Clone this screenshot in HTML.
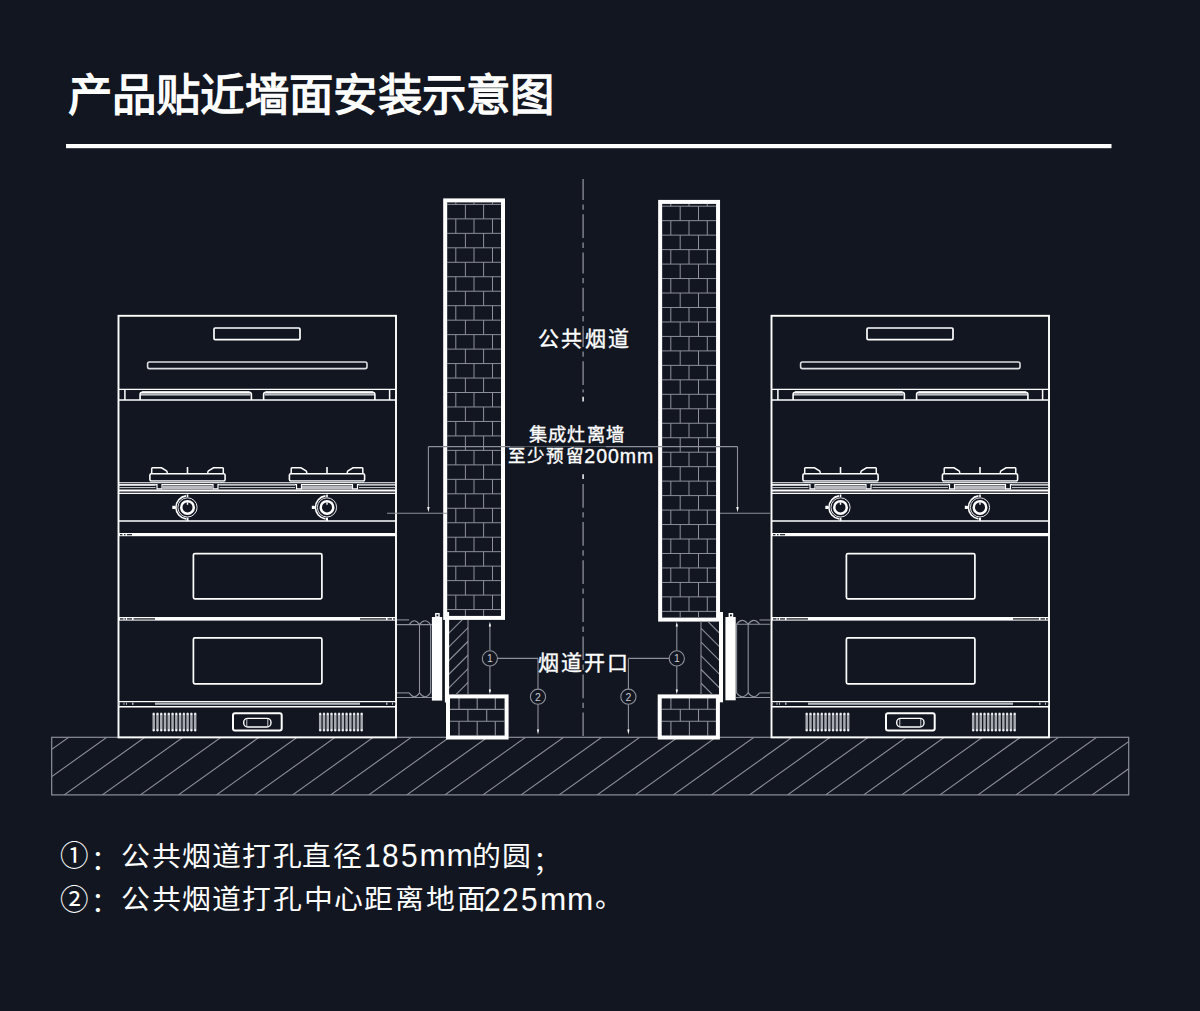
<!DOCTYPE html>
<html lang="zh-CN"><head><meta charset="utf-8">
<style>
html,body{margin:0;padding:0;}
body{width:1200px;height:1011px;background:#121621;position:relative;overflow:hidden;font-family:"Liberation Sans",sans-serif;color:#fff;}
.t{position:absolute;white-space:nowrap;line-height:1;}
svg{position:absolute;left:0;top:0;}
</style></head><body>
<svg width="1200" height="1011" viewBox="0 0 1200 1011">
<defs><clipPath id="floorclip"><rect x="51.7" y="737.3" width="1077" height="57.6"/></clipPath></defs>
<rect x="66" y="144" width="1045.5" height="4.2" fill="#fff"/>
<g clip-path="url(#floorclip)">
<line x1="-45.51" y1="737.30" x2="-126.15" y2="794.90" stroke="#8d9098" stroke-width="1.1" />
<line x1="-7.44" y1="737.30" x2="-88.08" y2="794.90" stroke="#8d9098" stroke-width="1.1" />
<line x1="30.63" y1="737.30" x2="-50.01" y2="794.90" stroke="#8d9098" stroke-width="1.1" />
<line x1="68.70" y1="737.30" x2="-11.94" y2="794.90" stroke="#8d9098" stroke-width="1.1" />
<line x1="106.77" y1="737.30" x2="26.13" y2="794.90" stroke="#8d9098" stroke-width="1.1" />
<line x1="144.84" y1="737.30" x2="64.20" y2="794.90" stroke="#8d9098" stroke-width="1.1" />
<line x1="182.91" y1="737.30" x2="102.27" y2="794.90" stroke="#8d9098" stroke-width="1.1" />
<line x1="220.98" y1="737.30" x2="140.34" y2="794.90" stroke="#8d9098" stroke-width="1.1" />
<line x1="259.05" y1="737.30" x2="178.41" y2="794.90" stroke="#8d9098" stroke-width="1.1" />
<line x1="297.12" y1="737.30" x2="216.48" y2="794.90" stroke="#8d9098" stroke-width="1.1" />
<line x1="335.19" y1="737.30" x2="254.55" y2="794.90" stroke="#8d9098" stroke-width="1.1" />
<line x1="373.26" y1="737.30" x2="292.62" y2="794.90" stroke="#8d9098" stroke-width="1.1" />
<line x1="411.33" y1="737.30" x2="330.69" y2="794.90" stroke="#8d9098" stroke-width="1.1" />
<line x1="449.40" y1="737.30" x2="368.76" y2="794.90" stroke="#8d9098" stroke-width="1.1" />
<line x1="487.47" y1="737.30" x2="406.83" y2="794.90" stroke="#8d9098" stroke-width="1.1" />
<line x1="525.54" y1="737.30" x2="444.90" y2="794.90" stroke="#8d9098" stroke-width="1.1" />
<line x1="563.61" y1="737.30" x2="482.97" y2="794.90" stroke="#8d9098" stroke-width="1.1" />
<line x1="601.68" y1="737.30" x2="521.04" y2="794.90" stroke="#8d9098" stroke-width="1.1" />
<line x1="639.75" y1="737.30" x2="559.11" y2="794.90" stroke="#8d9098" stroke-width="1.1" />
<line x1="677.82" y1="737.30" x2="597.18" y2="794.90" stroke="#8d9098" stroke-width="1.1" />
<line x1="715.89" y1="737.30" x2="635.25" y2="794.90" stroke="#8d9098" stroke-width="1.1" />
<line x1="753.96" y1="737.30" x2="673.32" y2="794.90" stroke="#8d9098" stroke-width="1.1" />
<line x1="792.03" y1="737.30" x2="711.39" y2="794.90" stroke="#8d9098" stroke-width="1.1" />
<line x1="830.10" y1="737.30" x2="749.46" y2="794.90" stroke="#8d9098" stroke-width="1.1" />
<line x1="868.17" y1="737.30" x2="787.53" y2="794.90" stroke="#8d9098" stroke-width="1.1" />
<line x1="906.24" y1="737.30" x2="825.60" y2="794.90" stroke="#8d9098" stroke-width="1.1" />
<line x1="944.31" y1="737.30" x2="863.67" y2="794.90" stroke="#8d9098" stroke-width="1.1" />
<line x1="982.38" y1="737.30" x2="901.74" y2="794.90" stroke="#8d9098" stroke-width="1.1" />
<line x1="1020.45" y1="737.30" x2="939.81" y2="794.90" stroke="#8d9098" stroke-width="1.1" />
<line x1="1058.52" y1="737.30" x2="977.88" y2="794.90" stroke="#8d9098" stroke-width="1.1" />
<line x1="1096.59" y1="737.30" x2="1015.95" y2="794.90" stroke="#8d9098" stroke-width="1.1" />
<line x1="1134.66" y1="737.30" x2="1054.02" y2="794.90" stroke="#8d9098" stroke-width="1.1" />
<line x1="1172.73" y1="737.30" x2="1092.09" y2="794.90" stroke="#8d9098" stroke-width="1.1" />
<line x1="1210.80" y1="737.30" x2="1130.16" y2="794.90" stroke="#8d9098" stroke-width="1.1" />
</g>
<rect x="51.70" y="737.30" width="1077.00" height="57.60" rx="0" fill="none" stroke="#8d9098" stroke-width="1.2"/>
<g id="stove">
<rect x="118.50" y="315.80" width="277.50" height="421.60" rx="0" fill="none" stroke="#ffffff" stroke-width="1.9"/>
<rect x="214.00" y="328.00" width="86.00" height="11.60" rx="1.2" fill="none" stroke="#ffffff" stroke-width="1.7"/>
<rect x="147.60" y="362.00" width="219.40" height="6.60" rx="1.8" fill="none" stroke="#dcdde0" stroke-width="1.6"/>
<line x1="118.50" y1="389.40" x2="396.00" y2="389.40" stroke="#ffffff" stroke-width="1.4" />
<line x1="118.50" y1="400.00" x2="396.00" y2="400.00" stroke="#ffffff" stroke-width="1.5" />
<line x1="124.90" y1="389.40" x2="124.90" y2="400.00" stroke="#ffffff" stroke-width="1.5" />
<line x1="389.60" y1="389.40" x2="389.60" y2="400.00" stroke="#ffffff" stroke-width="1.5" />
<path d="M140.1 400 L140.1 394.5 Q140.1 392.2 142.5 392.2 L249 392.2 Q251.4 392.2 251.4 394.5 L251.4 400" fill="none" stroke="#ffffff" stroke-width="1.6"/>
<rect x="142.00" y="391.30" width="107.50" height="2.20" rx="0" fill="#ffffff"/>
<rect x="141.00" y="393.40" width="109.50" height="2.20" rx="0" fill="#b9bbc0"/>
<path d="M263.6 400 L263.6 394.5 Q263.6 392.2 266 392.2 L372.5 392.2 Q374.9 392.2 374.9 394.5 L374.9 400" fill="none" stroke="#ffffff" stroke-width="1.6"/>
<rect x="265.50" y="391.30" width="107.50" height="2.20" rx="0" fill="#ffffff"/>
<rect x="264.50" y="393.40" width="109.50" height="2.20" rx="0" fill="#b9bbc0"/>
<path d="M151.7 473.5 L151.7 468.6 Q151.7 467.8 152.5 467.8 L161.5 467.8 L166.5 470.8 Q167.3 471.6 167.3 473.5" fill="none" stroke="#ffffff" stroke-width="1.5"/>
<path d="M223.3 473.5 L223.3 468.6 Q223.3 467.8 222.5 467.8 L213.5 467.8 L208.5 470.8 Q207.7 471.6 207.7 473.5" fill="none" stroke="#ffffff" stroke-width="1.5"/>
<line x1="187.50" y1="467.00" x2="187.50" y2="473.50" stroke="#ffffff" stroke-width="1.6" />
<rect x="149.90" y="473.80" width="75.20" height="7.20" rx="1.5" fill="none" stroke="#ffffff" stroke-width="1.6"/>
<rect x="150.50" y="481.00" width="74.00" height="1.80" rx="0" fill="#9fa2a8"/>
<path d="M155.5 484.6 L157.0 484.6 L157.0 488.8 L162.0 488.8 L162.0 484.6 L213.0 484.6 L213.0 488.8 L218.0 488.8 L218.0 484.6 L219.5 484.6" fill="none" stroke="#ffffff" stroke-width="1.2"/>
<rect x="162.50" y="485.60" width="50.00" height="3.60" rx="0" fill="#b8bac0"/>
<path d="M291.2 473.5 L291.2 468.6 Q291.2 467.8 292.0 467.8 L301.0 467.8 L306.0 470.8 Q306.8 471.6 306.8 473.5" fill="none" stroke="#ffffff" stroke-width="1.5"/>
<path d="M362.8 473.5 L362.8 468.6 Q362.8 467.8 362.0 467.8 L353.0 467.8 L348.0 470.8 Q347.2 471.6 347.2 473.5" fill="none" stroke="#ffffff" stroke-width="1.5"/>
<line x1="327.00" y1="467.00" x2="327.00" y2="473.50" stroke="#ffffff" stroke-width="1.6" />
<rect x="289.40" y="473.80" width="75.20" height="7.20" rx="1.5" fill="none" stroke="#ffffff" stroke-width="1.6"/>
<rect x="290.00" y="481.00" width="74.00" height="1.80" rx="0" fill="#9fa2a8"/>
<path d="M295.0 484.6 L296.5 484.6 L296.5 488.8 L301.5 488.8 L301.5 484.6 L352.5 484.6 L352.5 488.8 L357.5 488.8 L357.5 484.6 L359.0 484.6" fill="none" stroke="#ffffff" stroke-width="1.2"/>
<rect x="302.00" y="485.60" width="50.00" height="3.60" rx="0" fill="#b8bac0"/>
<line x1="118.50" y1="482.80" x2="396.00" y2="482.80" stroke="#ffffff" stroke-width="1.1" />
<line x1="118.50" y1="484.80" x2="155.50" y2="484.80" stroke="#ffffff" stroke-width="1.3" />
<line x1="118.50" y1="484.80" x2="155.50" y2="484.80" stroke="#ffffff" stroke-width="1.3" />
<line x1="118.50" y1="487.60" x2="155.50" y2="487.60" stroke="#cfd1d5" stroke-width="1.0" />
<line x1="219.50" y1="484.80" x2="295.00" y2="484.80" stroke="#ffffff" stroke-width="1.3" />
<line x1="219.50" y1="487.60" x2="295.00" y2="487.60" stroke="#cfd1d5" stroke-width="1.0" />
<line x1="359.00" y1="484.80" x2="396.00" y2="484.80" stroke="#ffffff" stroke-width="1.3" />
<line x1="359.00" y1="487.60" x2="396.00" y2="487.60" stroke="#cfd1d5" stroke-width="1.0" />
<line x1="118.50" y1="490.50" x2="396.00" y2="490.50" stroke="#ffffff" stroke-width="1.9" />
<line x1="118.50" y1="493.40" x2="396.00" y2="493.40" stroke="#ffffff" stroke-width="1.3" />
<circle cx="187.5" cy="507.4" r="9.6" fill="none" stroke="#e6e7ea" stroke-width="1"/>
<circle cx="187.5" cy="507.4" r="6.25" fill="none" stroke="#ffffff" stroke-width="2.5"/>
<path d="M186.0 495.9 A11.6 11.6 0 0 0 186.0 518.9" fill="none" stroke="#ffffff" stroke-width="1.6"/>
<line x1="187.50" y1="494.40" x2="187.50" y2="497.10" stroke="#ffffff" stroke-width="1.6" />
<line x1="187.50" y1="517.70" x2="187.50" y2="521.10" stroke="#ffffff" stroke-width="2" />
<line x1="187.50" y1="502.40" x2="187.50" y2="504.80" stroke="#ffffff" stroke-width="1.4" />
<path d="M172.3 505.79999999999995 L174.9 505.79999999999995 L176.1 507.4 L174.9 509.0 L172.3 509.0 Z" fill="#ffffff"/>
<circle cx="327.0" cy="507.4" r="9.6" fill="none" stroke="#e6e7ea" stroke-width="1"/>
<circle cx="327.0" cy="507.4" r="6.25" fill="none" stroke="#ffffff" stroke-width="2.5"/>
<path d="M325.5 495.9 A11.6 11.6 0 0 0 325.5 518.9" fill="none" stroke="#ffffff" stroke-width="1.6"/>
<line x1="327.00" y1="494.40" x2="327.00" y2="497.10" stroke="#ffffff" stroke-width="1.6" />
<line x1="327.00" y1="517.70" x2="327.00" y2="521.10" stroke="#ffffff" stroke-width="2" />
<line x1="327.00" y1="502.40" x2="327.00" y2="504.80" stroke="#ffffff" stroke-width="1.4" />
<path d="M311.8 505.79999999999995 L314.4 505.79999999999995 L315.6 507.4 L314.4 509.0 L311.8 509.0 Z" fill="#ffffff"/>
<line x1="118.50" y1="521.10" x2="396.00" y2="521.10" stroke="#ffffff" stroke-width="1.5" />
<rect x="118.50" y="533.00" width="277.50" height="3.20" rx="0" fill="#ffffff"/>
<rect x="193.40" y="553.60" width="128.50" height="45.20" rx="1.5" fill="none" stroke="#ffffff" stroke-width="1.7"/>
<rect x="118.50" y="617.00" width="277.50" height="3.60" rx="0" fill="#ffffff"/>
<rect x="193.40" y="637.90" width="128.50" height="45.90" rx="1.5" fill="none" stroke="#ffffff" stroke-width="1.7"/>
<rect x="120.00" y="534.00" width="2.50" height="1.30" rx="0" fill="#2a2e38"/>
<rect x="124.00" y="534.00" width="1.50" height="1.30" rx="0" fill="#2a2e38"/>
<rect x="127.00" y="534.00" width="5.00" height="1.30" rx="0" fill="#2a2e38"/>
<rect x="120.00" y="618.20" width="3.50" height="1.40" rx="0" fill="#2a2e38"/>
<rect x="124.50" y="618.20" width="1.50" height="1.40" rx="0" fill="#2a2e38"/>
<rect x="127.00" y="618.20" width="5.00" height="1.40" rx="0" fill="#2a2e38"/>
<rect x="133.50" y="618.20" width="21.50" height="1.40" rx="0" fill="#2a2e38"/>
<rect x="360.00" y="618.20" width="26.00" height="1.40" rx="0" fill="#2a2e38"/>
<rect x="387.50" y="618.20" width="4.50" height="1.40" rx="0" fill="#2a2e38"/>
<rect x="393.00" y="618.20" width="2.00" height="1.40" rx="0" fill="#2a2e38"/>
<line x1="118.50" y1="701.60" x2="396.00" y2="701.60" stroke="#ffffff" stroke-width="1.3" />
<rect x="118.50" y="702.60" width="277.50" height="2.20" rx="0" fill="#b4b7bd"/>
<line x1="118.50" y1="706.80" x2="396.00" y2="706.80" stroke="#ffffff" stroke-width="1.6" />
<rect x="120.00" y="702.50" width="3.50" height="2.60" rx="0" fill="#121621"/>
<rect x="124.50" y="702.50" width="1.50" height="2.60" rx="0" fill="#121621"/>
<rect x="127.00" y="702.50" width="5.00" height="2.60" rx="0" fill="#121621"/>
<rect x="133.50" y="702.50" width="21.50" height="2.60" rx="0" fill="#121621"/>
<rect x="360.00" y="702.50" width="26.00" height="2.60" rx="0" fill="#121621"/>
<rect x="387.50" y="702.50" width="4.50" height="2.60" rx="0" fill="#121621"/>
<rect x="393.00" y="702.50" width="2.00" height="2.60" rx="0" fill="#121621"/>
<rect x="152.45" y="712.6" width="2.5" height="19" rx="1.25" fill="#a6a9af"/>
<rect x="152.70" y="713" width="2" height="2.2" rx="1" fill="#f2f2f4"/><rect x="152.70" y="729" width="2" height="2.2" rx="1" fill="#f2f2f4"/>
<rect x="156.22" y="712.6" width="2.5" height="19" rx="1.25" fill="#a6a9af"/>
<rect x="156.47" y="713" width="2" height="2.2" rx="1" fill="#f2f2f4"/><rect x="156.47" y="729" width="2" height="2.2" rx="1" fill="#f2f2f4"/>
<rect x="159.99" y="712.6" width="2.5" height="19" rx="1.25" fill="#a6a9af"/>
<rect x="160.24" y="713" width="2" height="2.2" rx="1" fill="#f2f2f4"/><rect x="160.24" y="729" width="2" height="2.2" rx="1" fill="#f2f2f4"/>
<rect x="163.76" y="712.6" width="2.5" height="19" rx="1.25" fill="#a6a9af"/>
<rect x="164.01" y="713" width="2" height="2.2" rx="1" fill="#f2f2f4"/><rect x="164.01" y="729" width="2" height="2.2" rx="1" fill="#f2f2f4"/>
<rect x="167.53" y="712.6" width="2.5" height="19" rx="1.25" fill="#a6a9af"/>
<rect x="167.78" y="713" width="2" height="2.2" rx="1" fill="#f2f2f4"/><rect x="167.78" y="729" width="2" height="2.2" rx="1" fill="#f2f2f4"/>
<rect x="171.30" y="712.6" width="2.5" height="19" rx="1.25" fill="#a6a9af"/>
<rect x="171.55" y="713" width="2" height="2.2" rx="1" fill="#f2f2f4"/><rect x="171.55" y="729" width="2" height="2.2" rx="1" fill="#f2f2f4"/>
<rect x="175.07" y="712.6" width="2.5" height="19" rx="1.25" fill="#a6a9af"/>
<rect x="175.32" y="713" width="2" height="2.2" rx="1" fill="#f2f2f4"/><rect x="175.32" y="729" width="2" height="2.2" rx="1" fill="#f2f2f4"/>
<rect x="178.84" y="712.6" width="2.5" height="19" rx="1.25" fill="#a6a9af"/>
<rect x="179.09" y="713" width="2" height="2.2" rx="1" fill="#f2f2f4"/><rect x="179.09" y="729" width="2" height="2.2" rx="1" fill="#f2f2f4"/>
<rect x="182.61" y="712.6" width="2.5" height="19" rx="1.25" fill="#a6a9af"/>
<rect x="182.86" y="713" width="2" height="2.2" rx="1" fill="#f2f2f4"/><rect x="182.86" y="729" width="2" height="2.2" rx="1" fill="#f2f2f4"/>
<rect x="186.38" y="712.6" width="2.5" height="19" rx="1.25" fill="#a6a9af"/>
<rect x="186.63" y="713" width="2" height="2.2" rx="1" fill="#f2f2f4"/><rect x="186.63" y="729" width="2" height="2.2" rx="1" fill="#f2f2f4"/>
<rect x="190.15" y="712.6" width="2.5" height="19" rx="1.25" fill="#a6a9af"/>
<rect x="190.40" y="713" width="2" height="2.2" rx="1" fill="#f2f2f4"/><rect x="190.40" y="729" width="2" height="2.2" rx="1" fill="#f2f2f4"/>
<rect x="193.92" y="712.6" width="2.5" height="19" rx="1.25" fill="#a6a9af"/>
<rect x="194.17" y="713" width="2" height="2.2" rx="1" fill="#f2f2f4"/><rect x="194.17" y="729" width="2" height="2.2" rx="1" fill="#f2f2f4"/>
<rect x="318.95" y="712.6" width="2.5" height="19" rx="1.25" fill="#a6a9af"/>
<rect x="319.20" y="713" width="2" height="2.2" rx="1" fill="#f2f2f4"/><rect x="319.20" y="729" width="2" height="2.2" rx="1" fill="#f2f2f4"/>
<rect x="322.72" y="712.6" width="2.5" height="19" rx="1.25" fill="#a6a9af"/>
<rect x="322.97" y="713" width="2" height="2.2" rx="1" fill="#f2f2f4"/><rect x="322.97" y="729" width="2" height="2.2" rx="1" fill="#f2f2f4"/>
<rect x="326.49" y="712.6" width="2.5" height="19" rx="1.25" fill="#a6a9af"/>
<rect x="326.74" y="713" width="2" height="2.2" rx="1" fill="#f2f2f4"/><rect x="326.74" y="729" width="2" height="2.2" rx="1" fill="#f2f2f4"/>
<rect x="330.26" y="712.6" width="2.5" height="19" rx="1.25" fill="#a6a9af"/>
<rect x="330.51" y="713" width="2" height="2.2" rx="1" fill="#f2f2f4"/><rect x="330.51" y="729" width="2" height="2.2" rx="1" fill="#f2f2f4"/>
<rect x="334.03" y="712.6" width="2.5" height="19" rx="1.25" fill="#a6a9af"/>
<rect x="334.28" y="713" width="2" height="2.2" rx="1" fill="#f2f2f4"/><rect x="334.28" y="729" width="2" height="2.2" rx="1" fill="#f2f2f4"/>
<rect x="337.80" y="712.6" width="2.5" height="19" rx="1.25" fill="#a6a9af"/>
<rect x="338.05" y="713" width="2" height="2.2" rx="1" fill="#f2f2f4"/><rect x="338.05" y="729" width="2" height="2.2" rx="1" fill="#f2f2f4"/>
<rect x="341.57" y="712.6" width="2.5" height="19" rx="1.25" fill="#a6a9af"/>
<rect x="341.82" y="713" width="2" height="2.2" rx="1" fill="#f2f2f4"/><rect x="341.82" y="729" width="2" height="2.2" rx="1" fill="#f2f2f4"/>
<rect x="345.34" y="712.6" width="2.5" height="19" rx="1.25" fill="#a6a9af"/>
<rect x="345.59" y="713" width="2" height="2.2" rx="1" fill="#f2f2f4"/><rect x="345.59" y="729" width="2" height="2.2" rx="1" fill="#f2f2f4"/>
<rect x="349.11" y="712.6" width="2.5" height="19" rx="1.25" fill="#a6a9af"/>
<rect x="349.36" y="713" width="2" height="2.2" rx="1" fill="#f2f2f4"/><rect x="349.36" y="729" width="2" height="2.2" rx="1" fill="#f2f2f4"/>
<rect x="352.88" y="712.6" width="2.5" height="19" rx="1.25" fill="#a6a9af"/>
<rect x="353.13" y="713" width="2" height="2.2" rx="1" fill="#f2f2f4"/><rect x="353.13" y="729" width="2" height="2.2" rx="1" fill="#f2f2f4"/>
<rect x="356.65" y="712.6" width="2.5" height="19" rx="1.25" fill="#a6a9af"/>
<rect x="356.90" y="713" width="2" height="2.2" rx="1" fill="#f2f2f4"/><rect x="356.90" y="729" width="2" height="2.2" rx="1" fill="#f2f2f4"/>
<rect x="360.42" y="712.6" width="2.5" height="19" rx="1.25" fill="#a6a9af"/>
<rect x="360.67" y="713" width="2" height="2.2" rx="1" fill="#f2f2f4"/><rect x="360.67" y="729" width="2" height="2.2" rx="1" fill="#f2f2f4"/>
<rect x="233.00" y="713.20" width="48.70" height="17.20" rx="2" fill="none" stroke="#ffffff" stroke-width="2"/>
<rect x="243.70" y="718.40" width="27.30" height="8.60" rx="4" fill="none" stroke="#ffffff" stroke-width="1.4"/>
<line x1="246.80" y1="719.00" x2="246.80" y2="726.50" stroke="#c9cbd0" stroke-width="1" />
<line x1="267.80" y1="719.00" x2="267.80" y2="726.50" stroke="#c9cbd0" stroke-width="1" />
</g>
<use href="#stove" transform="translate(653,0)"/>
<line x1="447.20" y1="204.40" x2="500.90" y2="204.40" stroke="#8d9098" stroke-width="1.0" />
<line x1="465.40" y1="204.40" x2="465.40" y2="218.87" stroke="#8d9098" stroke-width="1.0" />
<line x1="483.60" y1="204.40" x2="483.60" y2="218.87" stroke="#8d9098" stroke-width="1.0" />
<line x1="447.20" y1="218.87" x2="500.90" y2="218.87" stroke="#8d9098" stroke-width="1.0" />
<line x1="455.80" y1="218.87" x2="455.80" y2="233.34" stroke="#8d9098" stroke-width="1.0" />
<line x1="474.00" y1="218.87" x2="474.00" y2="233.34" stroke="#8d9098" stroke-width="1.0" />
<line x1="492.50" y1="218.87" x2="492.50" y2="233.34" stroke="#8d9098" stroke-width="1.0" />
<line x1="447.20" y1="233.34" x2="500.90" y2="233.34" stroke="#8d9098" stroke-width="1.0" />
<line x1="465.40" y1="233.34" x2="465.40" y2="247.81" stroke="#8d9098" stroke-width="1.0" />
<line x1="483.60" y1="233.34" x2="483.60" y2="247.81" stroke="#8d9098" stroke-width="1.0" />
<line x1="447.20" y1="247.81" x2="500.90" y2="247.81" stroke="#8d9098" stroke-width="1.0" />
<line x1="455.80" y1="247.81" x2="455.80" y2="262.28" stroke="#8d9098" stroke-width="1.0" />
<line x1="474.00" y1="247.81" x2="474.00" y2="262.28" stroke="#8d9098" stroke-width="1.0" />
<line x1="492.50" y1="247.81" x2="492.50" y2="262.28" stroke="#8d9098" stroke-width="1.0" />
<line x1="447.20" y1="262.28" x2="500.90" y2="262.28" stroke="#8d9098" stroke-width="1.0" />
<line x1="465.40" y1="262.28" x2="465.40" y2="276.75" stroke="#8d9098" stroke-width="1.0" />
<line x1="483.60" y1="262.28" x2="483.60" y2="276.75" stroke="#8d9098" stroke-width="1.0" />
<line x1="447.20" y1="276.75" x2="500.90" y2="276.75" stroke="#8d9098" stroke-width="1.0" />
<line x1="455.80" y1="276.75" x2="455.80" y2="291.22" stroke="#8d9098" stroke-width="1.0" />
<line x1="474.00" y1="276.75" x2="474.00" y2="291.22" stroke="#8d9098" stroke-width="1.0" />
<line x1="492.50" y1="276.75" x2="492.50" y2="291.22" stroke="#8d9098" stroke-width="1.0" />
<line x1="447.20" y1="291.22" x2="500.90" y2="291.22" stroke="#8d9098" stroke-width="1.0" />
<line x1="465.40" y1="291.22" x2="465.40" y2="305.69" stroke="#8d9098" stroke-width="1.0" />
<line x1="483.60" y1="291.22" x2="483.60" y2="305.69" stroke="#8d9098" stroke-width="1.0" />
<line x1="447.20" y1="305.69" x2="500.90" y2="305.69" stroke="#8d9098" stroke-width="1.0" />
<line x1="455.80" y1="305.69" x2="455.80" y2="320.16" stroke="#8d9098" stroke-width="1.0" />
<line x1="474.00" y1="305.69" x2="474.00" y2="320.16" stroke="#8d9098" stroke-width="1.0" />
<line x1="492.50" y1="305.69" x2="492.50" y2="320.16" stroke="#8d9098" stroke-width="1.0" />
<line x1="447.20" y1="320.16" x2="500.90" y2="320.16" stroke="#8d9098" stroke-width="1.0" />
<line x1="465.40" y1="320.16" x2="465.40" y2="334.63" stroke="#8d9098" stroke-width="1.0" />
<line x1="483.60" y1="320.16" x2="483.60" y2="334.63" stroke="#8d9098" stroke-width="1.0" />
<line x1="447.20" y1="334.63" x2="500.90" y2="334.63" stroke="#8d9098" stroke-width="1.0" />
<line x1="455.80" y1="334.63" x2="455.80" y2="349.10" stroke="#8d9098" stroke-width="1.0" />
<line x1="474.00" y1="334.63" x2="474.00" y2="349.10" stroke="#8d9098" stroke-width="1.0" />
<line x1="492.50" y1="334.63" x2="492.50" y2="349.10" stroke="#8d9098" stroke-width="1.0" />
<line x1="447.20" y1="349.10" x2="500.90" y2="349.10" stroke="#8d9098" stroke-width="1.0" />
<line x1="465.40" y1="349.10" x2="465.40" y2="363.57" stroke="#8d9098" stroke-width="1.0" />
<line x1="483.60" y1="349.10" x2="483.60" y2="363.57" stroke="#8d9098" stroke-width="1.0" />
<line x1="447.20" y1="363.57" x2="500.90" y2="363.57" stroke="#8d9098" stroke-width="1.0" />
<line x1="455.80" y1="363.57" x2="455.80" y2="378.04" stroke="#8d9098" stroke-width="1.0" />
<line x1="474.00" y1="363.57" x2="474.00" y2="378.04" stroke="#8d9098" stroke-width="1.0" />
<line x1="492.50" y1="363.57" x2="492.50" y2="378.04" stroke="#8d9098" stroke-width="1.0" />
<line x1="447.20" y1="378.04" x2="500.90" y2="378.04" stroke="#8d9098" stroke-width="1.0" />
<line x1="465.40" y1="378.04" x2="465.40" y2="392.51" stroke="#8d9098" stroke-width="1.0" />
<line x1="483.60" y1="378.04" x2="483.60" y2="392.51" stroke="#8d9098" stroke-width="1.0" />
<line x1="447.20" y1="392.51" x2="500.90" y2="392.51" stroke="#8d9098" stroke-width="1.0" />
<line x1="455.80" y1="392.51" x2="455.80" y2="406.98" stroke="#8d9098" stroke-width="1.0" />
<line x1="474.00" y1="392.51" x2="474.00" y2="406.98" stroke="#8d9098" stroke-width="1.0" />
<line x1="492.50" y1="392.51" x2="492.50" y2="406.98" stroke="#8d9098" stroke-width="1.0" />
<line x1="447.20" y1="406.98" x2="500.90" y2="406.98" stroke="#8d9098" stroke-width="1.0" />
<line x1="465.40" y1="406.98" x2="465.40" y2="421.45" stroke="#8d9098" stroke-width="1.0" />
<line x1="483.60" y1="406.98" x2="483.60" y2="421.45" stroke="#8d9098" stroke-width="1.0" />
<line x1="447.20" y1="421.45" x2="500.90" y2="421.45" stroke="#8d9098" stroke-width="1.0" />
<line x1="455.80" y1="421.45" x2="455.80" y2="435.92" stroke="#8d9098" stroke-width="1.0" />
<line x1="474.00" y1="421.45" x2="474.00" y2="435.92" stroke="#8d9098" stroke-width="1.0" />
<line x1="492.50" y1="421.45" x2="492.50" y2="435.92" stroke="#8d9098" stroke-width="1.0" />
<line x1="447.20" y1="435.92" x2="500.90" y2="435.92" stroke="#8d9098" stroke-width="1.0" />
<line x1="465.40" y1="435.92" x2="465.40" y2="450.39" stroke="#8d9098" stroke-width="1.0" />
<line x1="483.60" y1="435.92" x2="483.60" y2="450.39" stroke="#8d9098" stroke-width="1.0" />
<line x1="447.20" y1="450.39" x2="500.90" y2="450.39" stroke="#8d9098" stroke-width="1.0" />
<line x1="455.80" y1="450.39" x2="455.80" y2="464.86" stroke="#8d9098" stroke-width="1.0" />
<line x1="474.00" y1="450.39" x2="474.00" y2="464.86" stroke="#8d9098" stroke-width="1.0" />
<line x1="492.50" y1="450.39" x2="492.50" y2="464.86" stroke="#8d9098" stroke-width="1.0" />
<line x1="447.20" y1="464.86" x2="500.90" y2="464.86" stroke="#8d9098" stroke-width="1.0" />
<line x1="465.40" y1="464.86" x2="465.40" y2="479.33" stroke="#8d9098" stroke-width="1.0" />
<line x1="483.60" y1="464.86" x2="483.60" y2="479.33" stroke="#8d9098" stroke-width="1.0" />
<line x1="447.20" y1="479.33" x2="500.90" y2="479.33" stroke="#8d9098" stroke-width="1.0" />
<line x1="455.80" y1="479.33" x2="455.80" y2="493.80" stroke="#8d9098" stroke-width="1.0" />
<line x1="474.00" y1="479.33" x2="474.00" y2="493.80" stroke="#8d9098" stroke-width="1.0" />
<line x1="492.50" y1="479.33" x2="492.50" y2="493.80" stroke="#8d9098" stroke-width="1.0" />
<line x1="447.20" y1="493.80" x2="500.90" y2="493.80" stroke="#8d9098" stroke-width="1.0" />
<line x1="465.40" y1="493.80" x2="465.40" y2="508.27" stroke="#8d9098" stroke-width="1.0" />
<line x1="483.60" y1="493.80" x2="483.60" y2="508.27" stroke="#8d9098" stroke-width="1.0" />
<line x1="447.20" y1="508.27" x2="500.90" y2="508.27" stroke="#8d9098" stroke-width="1.0" />
<line x1="455.80" y1="508.27" x2="455.80" y2="522.74" stroke="#8d9098" stroke-width="1.0" />
<line x1="474.00" y1="508.27" x2="474.00" y2="522.74" stroke="#8d9098" stroke-width="1.0" />
<line x1="492.50" y1="508.27" x2="492.50" y2="522.74" stroke="#8d9098" stroke-width="1.0" />
<line x1="447.20" y1="522.74" x2="500.90" y2="522.74" stroke="#8d9098" stroke-width="1.0" />
<line x1="465.40" y1="522.74" x2="465.40" y2="537.21" stroke="#8d9098" stroke-width="1.0" />
<line x1="483.60" y1="522.74" x2="483.60" y2="537.21" stroke="#8d9098" stroke-width="1.0" />
<line x1="447.20" y1="537.21" x2="500.90" y2="537.21" stroke="#8d9098" stroke-width="1.0" />
<line x1="455.80" y1="537.21" x2="455.80" y2="551.68" stroke="#8d9098" stroke-width="1.0" />
<line x1="474.00" y1="537.21" x2="474.00" y2="551.68" stroke="#8d9098" stroke-width="1.0" />
<line x1="492.50" y1="537.21" x2="492.50" y2="551.68" stroke="#8d9098" stroke-width="1.0" />
<line x1="447.20" y1="551.68" x2="500.90" y2="551.68" stroke="#8d9098" stroke-width="1.0" />
<line x1="465.40" y1="551.68" x2="465.40" y2="566.15" stroke="#8d9098" stroke-width="1.0" />
<line x1="483.60" y1="551.68" x2="483.60" y2="566.15" stroke="#8d9098" stroke-width="1.0" />
<line x1="447.20" y1="566.15" x2="500.90" y2="566.15" stroke="#8d9098" stroke-width="1.0" />
<line x1="455.80" y1="566.15" x2="455.80" y2="580.62" stroke="#8d9098" stroke-width="1.0" />
<line x1="474.00" y1="566.15" x2="474.00" y2="580.62" stroke="#8d9098" stroke-width="1.0" />
<line x1="492.50" y1="566.15" x2="492.50" y2="580.62" stroke="#8d9098" stroke-width="1.0" />
<line x1="447.20" y1="580.62" x2="500.90" y2="580.62" stroke="#8d9098" stroke-width="1.0" />
<line x1="465.40" y1="580.62" x2="465.40" y2="595.09" stroke="#8d9098" stroke-width="1.0" />
<line x1="483.60" y1="580.62" x2="483.60" y2="595.09" stroke="#8d9098" stroke-width="1.0" />
<line x1="447.20" y1="595.09" x2="500.90" y2="595.09" stroke="#8d9098" stroke-width="1.0" />
<line x1="455.80" y1="595.09" x2="455.80" y2="609.56" stroke="#8d9098" stroke-width="1.0" />
<line x1="474.00" y1="595.09" x2="474.00" y2="609.56" stroke="#8d9098" stroke-width="1.0" />
<line x1="492.50" y1="595.09" x2="492.50" y2="609.56" stroke="#8d9098" stroke-width="1.0" />
<line x1="447.20" y1="609.56" x2="500.90" y2="609.56" stroke="#8d9098" stroke-width="1.0" />
<line x1="465.40" y1="609.56" x2="465.40" y2="615.90" stroke="#8d9098" stroke-width="1.0" />
<line x1="483.60" y1="609.56" x2="483.60" y2="615.90" stroke="#8d9098" stroke-width="1.0" />
<line x1="455.80" y1="202.40" x2="455.80" y2="204.40" stroke="#8d9098" stroke-width="1.1" />
<line x1="474.00" y1="202.40" x2="474.00" y2="204.40" stroke="#8d9098" stroke-width="1.1" />
<line x1="492.50" y1="202.40" x2="492.50" y2="204.40" stroke="#8d9098" stroke-width="1.1" />
<rect x="445.20" y="200.40" width="57.80" height="417.50" rx="0" fill="none" stroke="#ffffff" stroke-width="4"/>
<line x1="662.10" y1="206.20" x2="715.90" y2="206.20" stroke="#8d9098" stroke-width="1.0" />
<line x1="680.20" y1="206.20" x2="680.20" y2="220.67" stroke="#8d9098" stroke-width="1.0" />
<line x1="698.50" y1="206.20" x2="698.50" y2="220.67" stroke="#8d9098" stroke-width="1.0" />
<line x1="662.10" y1="220.67" x2="715.90" y2="220.67" stroke="#8d9098" stroke-width="1.0" />
<line x1="670.80" y1="220.67" x2="670.80" y2="235.14" stroke="#8d9098" stroke-width="1.0" />
<line x1="689.00" y1="220.67" x2="689.00" y2="235.14" stroke="#8d9098" stroke-width="1.0" />
<line x1="707.30" y1="220.67" x2="707.30" y2="235.14" stroke="#8d9098" stroke-width="1.0" />
<line x1="662.10" y1="235.14" x2="715.90" y2="235.14" stroke="#8d9098" stroke-width="1.0" />
<line x1="680.20" y1="235.14" x2="680.20" y2="249.61" stroke="#8d9098" stroke-width="1.0" />
<line x1="698.50" y1="235.14" x2="698.50" y2="249.61" stroke="#8d9098" stroke-width="1.0" />
<line x1="662.10" y1="249.61" x2="715.90" y2="249.61" stroke="#8d9098" stroke-width="1.0" />
<line x1="670.80" y1="249.61" x2="670.80" y2="264.08" stroke="#8d9098" stroke-width="1.0" />
<line x1="689.00" y1="249.61" x2="689.00" y2="264.08" stroke="#8d9098" stroke-width="1.0" />
<line x1="707.30" y1="249.61" x2="707.30" y2="264.08" stroke="#8d9098" stroke-width="1.0" />
<line x1="662.10" y1="264.08" x2="715.90" y2="264.08" stroke="#8d9098" stroke-width="1.0" />
<line x1="680.20" y1="264.08" x2="680.20" y2="278.55" stroke="#8d9098" stroke-width="1.0" />
<line x1="698.50" y1="264.08" x2="698.50" y2="278.55" stroke="#8d9098" stroke-width="1.0" />
<line x1="662.10" y1="278.55" x2="715.90" y2="278.55" stroke="#8d9098" stroke-width="1.0" />
<line x1="670.80" y1="278.55" x2="670.80" y2="293.02" stroke="#8d9098" stroke-width="1.0" />
<line x1="689.00" y1="278.55" x2="689.00" y2="293.02" stroke="#8d9098" stroke-width="1.0" />
<line x1="707.30" y1="278.55" x2="707.30" y2="293.02" stroke="#8d9098" stroke-width="1.0" />
<line x1="662.10" y1="293.02" x2="715.90" y2="293.02" stroke="#8d9098" stroke-width="1.0" />
<line x1="680.20" y1="293.02" x2="680.20" y2="307.49" stroke="#8d9098" stroke-width="1.0" />
<line x1="698.50" y1="293.02" x2="698.50" y2="307.49" stroke="#8d9098" stroke-width="1.0" />
<line x1="662.10" y1="307.49" x2="715.90" y2="307.49" stroke="#8d9098" stroke-width="1.0" />
<line x1="670.80" y1="307.49" x2="670.80" y2="321.96" stroke="#8d9098" stroke-width="1.0" />
<line x1="689.00" y1="307.49" x2="689.00" y2="321.96" stroke="#8d9098" stroke-width="1.0" />
<line x1="707.30" y1="307.49" x2="707.30" y2="321.96" stroke="#8d9098" stroke-width="1.0" />
<line x1="662.10" y1="321.96" x2="715.90" y2="321.96" stroke="#8d9098" stroke-width="1.0" />
<line x1="680.20" y1="321.96" x2="680.20" y2="336.43" stroke="#8d9098" stroke-width="1.0" />
<line x1="698.50" y1="321.96" x2="698.50" y2="336.43" stroke="#8d9098" stroke-width="1.0" />
<line x1="662.10" y1="336.43" x2="715.90" y2="336.43" stroke="#8d9098" stroke-width="1.0" />
<line x1="670.80" y1="336.43" x2="670.80" y2="350.90" stroke="#8d9098" stroke-width="1.0" />
<line x1="689.00" y1="336.43" x2="689.00" y2="350.90" stroke="#8d9098" stroke-width="1.0" />
<line x1="707.30" y1="336.43" x2="707.30" y2="350.90" stroke="#8d9098" stroke-width="1.0" />
<line x1="662.10" y1="350.90" x2="715.90" y2="350.90" stroke="#8d9098" stroke-width="1.0" />
<line x1="680.20" y1="350.90" x2="680.20" y2="365.37" stroke="#8d9098" stroke-width="1.0" />
<line x1="698.50" y1="350.90" x2="698.50" y2="365.37" stroke="#8d9098" stroke-width="1.0" />
<line x1="662.10" y1="365.37" x2="715.90" y2="365.37" stroke="#8d9098" stroke-width="1.0" />
<line x1="670.80" y1="365.37" x2="670.80" y2="379.84" stroke="#8d9098" stroke-width="1.0" />
<line x1="689.00" y1="365.37" x2="689.00" y2="379.84" stroke="#8d9098" stroke-width="1.0" />
<line x1="707.30" y1="365.37" x2="707.30" y2="379.84" stroke="#8d9098" stroke-width="1.0" />
<line x1="662.10" y1="379.84" x2="715.90" y2="379.84" stroke="#8d9098" stroke-width="1.0" />
<line x1="680.20" y1="379.84" x2="680.20" y2="394.31" stroke="#8d9098" stroke-width="1.0" />
<line x1="698.50" y1="379.84" x2="698.50" y2="394.31" stroke="#8d9098" stroke-width="1.0" />
<line x1="662.10" y1="394.31" x2="715.90" y2="394.31" stroke="#8d9098" stroke-width="1.0" />
<line x1="670.80" y1="394.31" x2="670.80" y2="408.78" stroke="#8d9098" stroke-width="1.0" />
<line x1="689.00" y1="394.31" x2="689.00" y2="408.78" stroke="#8d9098" stroke-width="1.0" />
<line x1="707.30" y1="394.31" x2="707.30" y2="408.78" stroke="#8d9098" stroke-width="1.0" />
<line x1="662.10" y1="408.78" x2="715.90" y2="408.78" stroke="#8d9098" stroke-width="1.0" />
<line x1="680.20" y1="408.78" x2="680.20" y2="423.25" stroke="#8d9098" stroke-width="1.0" />
<line x1="698.50" y1="408.78" x2="698.50" y2="423.25" stroke="#8d9098" stroke-width="1.0" />
<line x1="662.10" y1="423.25" x2="715.90" y2="423.25" stroke="#8d9098" stroke-width="1.0" />
<line x1="670.80" y1="423.25" x2="670.80" y2="437.72" stroke="#8d9098" stroke-width="1.0" />
<line x1="689.00" y1="423.25" x2="689.00" y2="437.72" stroke="#8d9098" stroke-width="1.0" />
<line x1="707.30" y1="423.25" x2="707.30" y2="437.72" stroke="#8d9098" stroke-width="1.0" />
<line x1="662.10" y1="437.72" x2="715.90" y2="437.72" stroke="#8d9098" stroke-width="1.0" />
<line x1="680.20" y1="437.72" x2="680.20" y2="452.19" stroke="#8d9098" stroke-width="1.0" />
<line x1="698.50" y1="437.72" x2="698.50" y2="452.19" stroke="#8d9098" stroke-width="1.0" />
<line x1="662.10" y1="452.19" x2="715.90" y2="452.19" stroke="#8d9098" stroke-width="1.0" />
<line x1="670.80" y1="452.19" x2="670.80" y2="466.66" stroke="#8d9098" stroke-width="1.0" />
<line x1="689.00" y1="452.19" x2="689.00" y2="466.66" stroke="#8d9098" stroke-width="1.0" />
<line x1="707.30" y1="452.19" x2="707.30" y2="466.66" stroke="#8d9098" stroke-width="1.0" />
<line x1="662.10" y1="466.66" x2="715.90" y2="466.66" stroke="#8d9098" stroke-width="1.0" />
<line x1="680.20" y1="466.66" x2="680.20" y2="481.13" stroke="#8d9098" stroke-width="1.0" />
<line x1="698.50" y1="466.66" x2="698.50" y2="481.13" stroke="#8d9098" stroke-width="1.0" />
<line x1="662.10" y1="481.13" x2="715.90" y2="481.13" stroke="#8d9098" stroke-width="1.0" />
<line x1="670.80" y1="481.13" x2="670.80" y2="495.60" stroke="#8d9098" stroke-width="1.0" />
<line x1="689.00" y1="481.13" x2="689.00" y2="495.60" stroke="#8d9098" stroke-width="1.0" />
<line x1="707.30" y1="481.13" x2="707.30" y2="495.60" stroke="#8d9098" stroke-width="1.0" />
<line x1="662.10" y1="495.60" x2="715.90" y2="495.60" stroke="#8d9098" stroke-width="1.0" />
<line x1="680.20" y1="495.60" x2="680.20" y2="510.07" stroke="#8d9098" stroke-width="1.0" />
<line x1="698.50" y1="495.60" x2="698.50" y2="510.07" stroke="#8d9098" stroke-width="1.0" />
<line x1="662.10" y1="510.07" x2="715.90" y2="510.07" stroke="#8d9098" stroke-width="1.0" />
<line x1="670.80" y1="510.07" x2="670.80" y2="524.54" stroke="#8d9098" stroke-width="1.0" />
<line x1="689.00" y1="510.07" x2="689.00" y2="524.54" stroke="#8d9098" stroke-width="1.0" />
<line x1="707.30" y1="510.07" x2="707.30" y2="524.54" stroke="#8d9098" stroke-width="1.0" />
<line x1="662.10" y1="524.54" x2="715.90" y2="524.54" stroke="#8d9098" stroke-width="1.0" />
<line x1="680.20" y1="524.54" x2="680.20" y2="539.01" stroke="#8d9098" stroke-width="1.0" />
<line x1="698.50" y1="524.54" x2="698.50" y2="539.01" stroke="#8d9098" stroke-width="1.0" />
<line x1="662.10" y1="539.01" x2="715.90" y2="539.01" stroke="#8d9098" stroke-width="1.0" />
<line x1="670.80" y1="539.01" x2="670.80" y2="553.48" stroke="#8d9098" stroke-width="1.0" />
<line x1="689.00" y1="539.01" x2="689.00" y2="553.48" stroke="#8d9098" stroke-width="1.0" />
<line x1="707.30" y1="539.01" x2="707.30" y2="553.48" stroke="#8d9098" stroke-width="1.0" />
<line x1="662.10" y1="553.48" x2="715.90" y2="553.48" stroke="#8d9098" stroke-width="1.0" />
<line x1="680.20" y1="553.48" x2="680.20" y2="567.95" stroke="#8d9098" stroke-width="1.0" />
<line x1="698.50" y1="553.48" x2="698.50" y2="567.95" stroke="#8d9098" stroke-width="1.0" />
<line x1="662.10" y1="567.95" x2="715.90" y2="567.95" stroke="#8d9098" stroke-width="1.0" />
<line x1="670.80" y1="567.95" x2="670.80" y2="582.42" stroke="#8d9098" stroke-width="1.0" />
<line x1="689.00" y1="567.95" x2="689.00" y2="582.42" stroke="#8d9098" stroke-width="1.0" />
<line x1="707.30" y1="567.95" x2="707.30" y2="582.42" stroke="#8d9098" stroke-width="1.0" />
<line x1="662.10" y1="582.42" x2="715.90" y2="582.42" stroke="#8d9098" stroke-width="1.0" />
<line x1="680.20" y1="582.42" x2="680.20" y2="596.89" stroke="#8d9098" stroke-width="1.0" />
<line x1="698.50" y1="582.42" x2="698.50" y2="596.89" stroke="#8d9098" stroke-width="1.0" />
<line x1="662.10" y1="596.89" x2="715.90" y2="596.89" stroke="#8d9098" stroke-width="1.0" />
<line x1="670.80" y1="596.89" x2="670.80" y2="611.36" stroke="#8d9098" stroke-width="1.0" />
<line x1="689.00" y1="596.89" x2="689.00" y2="611.36" stroke="#8d9098" stroke-width="1.0" />
<line x1="707.30" y1="596.89" x2="707.30" y2="611.36" stroke="#8d9098" stroke-width="1.0" />
<line x1="662.10" y1="611.36" x2="715.90" y2="611.36" stroke="#8d9098" stroke-width="1.0" />
<line x1="680.20" y1="611.36" x2="680.20" y2="617.00" stroke="#8d9098" stroke-width="1.0" />
<line x1="698.50" y1="611.36" x2="698.50" y2="617.00" stroke="#8d9098" stroke-width="1.0" />
<line x1="670.80" y1="204.00" x2="670.80" y2="206.20" stroke="#8d9098" stroke-width="1.1" />
<line x1="689.00" y1="204.00" x2="689.00" y2="206.20" stroke="#8d9098" stroke-width="1.1" />
<line x1="707.30" y1="204.00" x2="707.30" y2="206.20" stroke="#8d9098" stroke-width="1.1" />
<rect x="660.15" y="201.90" width="57.90" height="417.70" rx="0" fill="none" stroke="#ffffff" stroke-width="4"/>
<line x1="450.00" y1="709.40" x2="504.50" y2="709.40" stroke="#8d9098" stroke-width="1.1" />
<line x1="450.00" y1="721.30" x2="504.50" y2="721.30" stroke="#8d9098" stroke-width="1.1" />
<line x1="459.00" y1="698.00" x2="459.00" y2="709.40" stroke="#8d9098" stroke-width="1.1" />
<line x1="459.00" y1="721.30" x2="459.00" y2="735.40" stroke="#8d9098" stroke-width="1.1" />
<line x1="477.20" y1="698.00" x2="477.20" y2="709.40" stroke="#8d9098" stroke-width="1.1" />
<line x1="477.20" y1="721.30" x2="477.20" y2="735.40" stroke="#8d9098" stroke-width="1.1" />
<line x1="495.30" y1="698.00" x2="495.30" y2="709.40" stroke="#8d9098" stroke-width="1.1" />
<line x1="495.30" y1="721.30" x2="495.30" y2="735.40" stroke="#8d9098" stroke-width="1.1" />
<line x1="467.90" y1="709.40" x2="467.90" y2="721.30" stroke="#8d9098" stroke-width="1.1" />
<line x1="486.70" y1="709.40" x2="486.70" y2="721.30" stroke="#8d9098" stroke-width="1.1" />
<rect x="448.00" y="696.40" width="58.60" height="41.10" rx="0" fill="none" stroke="#ffffff" stroke-width="4"/>
<line x1="661.70" y1="709.20" x2="716.00" y2="709.20" stroke="#8d9098" stroke-width="1.1" />
<line x1="661.70" y1="721.30" x2="716.00" y2="721.30" stroke="#8d9098" stroke-width="1.1" />
<line x1="670.90" y1="698.00" x2="670.90" y2="709.20" stroke="#8d9098" stroke-width="1.1" />
<line x1="670.90" y1="721.30" x2="670.90" y2="735.40" stroke="#8d9098" stroke-width="1.1" />
<line x1="689.40" y1="698.00" x2="689.40" y2="709.20" stroke="#8d9098" stroke-width="1.1" />
<line x1="689.40" y1="721.30" x2="689.40" y2="735.40" stroke="#8d9098" stroke-width="1.1" />
<line x1="707.70" y1="698.00" x2="707.70" y2="709.20" stroke="#8d9098" stroke-width="1.1" />
<line x1="707.70" y1="721.30" x2="707.70" y2="735.40" stroke="#8d9098" stroke-width="1.1" />
<line x1="680.30" y1="709.20" x2="680.30" y2="721.30" stroke="#8d9098" stroke-width="1.1" />
<line x1="698.50" y1="709.20" x2="698.50" y2="721.30" stroke="#8d9098" stroke-width="1.1" />
<rect x="659.70" y="696.40" width="58.20" height="41.10" rx="0" fill="none" stroke="#ffffff" stroke-width="4"/>
<clipPath id="hl"><rect x="449" y="620" width="19" height="74.5"/></clipPath>
<clipPath id="hr"><rect x="701" y="621.5" width="18.2" height="73"/></clipPath>
<g clip-path="url(#hl)">
<line x1="368.30" y1="700.00" x2="458.30" y2="610.00" stroke="#8d9098" stroke-width="1.1" />
<line x1="382.00" y1="700.00" x2="472.00" y2="610.00" stroke="#8d9098" stroke-width="1.1" />
<line x1="395.70" y1="700.00" x2="485.70" y2="610.00" stroke="#8d9098" stroke-width="1.1" />
<line x1="409.40" y1="700.00" x2="499.40" y2="610.00" stroke="#8d9098" stroke-width="1.1" />
<line x1="423.10" y1="700.00" x2="513.10" y2="610.00" stroke="#8d9098" stroke-width="1.1" />
<line x1="436.80" y1="700.00" x2="526.80" y2="610.00" stroke="#8d9098" stroke-width="1.1" />
<line x1="450.50" y1="700.00" x2="540.50" y2="610.00" stroke="#8d9098" stroke-width="1.1" />
<line x1="464.20" y1="700.00" x2="554.20" y2="610.00" stroke="#8d9098" stroke-width="1.1" />
</g>
<line x1="468.00" y1="620.00" x2="468.00" y2="694.50" stroke="#8d9098" stroke-width="1.1" />
<g clip-path="url(#hr)">
<line x1="710.10" y1="610.00" x2="800.10" y2="700.00" stroke="#8d9098" stroke-width="1.1" />
<line x1="696.40" y1="610.00" x2="786.40" y2="700.00" stroke="#8d9098" stroke-width="1.1" />
<line x1="682.70" y1="610.00" x2="772.70" y2="700.00" stroke="#8d9098" stroke-width="1.1" />
<line x1="669.00" y1="610.00" x2="759.00" y2="700.00" stroke="#8d9098" stroke-width="1.1" />
<line x1="655.30" y1="610.00" x2="745.30" y2="700.00" stroke="#8d9098" stroke-width="1.1" />
<line x1="641.60" y1="610.00" x2="731.60" y2="700.00" stroke="#8d9098" stroke-width="1.1" />
<line x1="627.90" y1="610.00" x2="717.90" y2="700.00" stroke="#8d9098" stroke-width="1.1" />
<line x1="614.20" y1="610.00" x2="704.20" y2="700.00" stroke="#8d9098" stroke-width="1.1" />
</g>
<line x1="701.00" y1="621.50" x2="701.00" y2="694.50" stroke="#8d9098" stroke-width="1.1" />
<rect x="444.90" y="612.00" width="4.20" height="90.50" rx="0" fill="#ffffff"/>
<rect x="719.00" y="612.00" width="4.00" height="90.30" rx="0" fill="#ffffff"/>
<rect x="431.90" y="617.00" width="10.30" height="83.60" rx="0" fill="#ffffff"/>
<rect x="725.40" y="617.00" width="10.30" height="83.30" rx="0" fill="#ffffff"/>
<rect x="435.80" y="613.70" width="3.20" height="3.30" rx="0" fill="none" stroke="#ffffff" stroke-width="1.4"/>
<rect x="729.30" y="613.70" width="3.20" height="3.30" rx="0" fill="none" stroke="#ffffff" stroke-width="1.4"/>
<line x1="397.00" y1="619.90" x2="409.20" y2="619.90" stroke="#8d9098" stroke-width="1.1" />
<line x1="397.00" y1="624.60" x2="432.00" y2="624.60" stroke="#8d9098" stroke-width="1.1" />
<line x1="397.00" y1="692.90" x2="409.20" y2="692.90" stroke="#8d9098" stroke-width="1.1" />
<line x1="397.00" y1="697.50" x2="432.00" y2="697.50" stroke="#8d9098" stroke-width="1.1" />
<path d="M409.2 624.6 Q414.3 616.8 419.5 624.6 Q424.9 616.8 430.5 624.6" fill="none" stroke="#8d9098" stroke-width="1.1"/>
<path d="M409.2 692.9 Q414.3 700.7 419.5 692.9 Q424.9 700.7 430.5 692.9" fill="none" stroke="#8d9098" stroke-width="1.1"/>
<line x1="419.50" y1="624.60" x2="419.50" y2="692.90" stroke="#8d9098" stroke-width="1.1" />
<line x1="430.60" y1="624.60" x2="430.60" y2="692.90" stroke="#8d9098" stroke-width="1.1" />
<line x1="759.50" y1="620.00" x2="770.50" y2="620.00" stroke="#8d9098" stroke-width="1.1" />
<line x1="736.00" y1="624.30" x2="770.50" y2="624.30" stroke="#8d9098" stroke-width="1.1" />
<line x1="759.50" y1="692.90" x2="770.50" y2="692.90" stroke="#8d9098" stroke-width="1.1" />
<line x1="736.00" y1="697.50" x2="770.50" y2="697.50" stroke="#8d9098" stroke-width="1.1" />
<path d="M736.6 624.3 Q742 616.5 748.2 624.3 Q753.8 616.5 759.5 624.3" fill="none" stroke="#8d9098" stroke-width="1.1"/>
<path d="M736.6 692.9 Q742 700.7 748.2 692.9 Q753.8 700.7 759.5 692.9" fill="none" stroke="#8d9098" stroke-width="1.1"/>
<line x1="748.20" y1="624.30" x2="748.20" y2="692.90" stroke="#8d9098" stroke-width="1.1" />
<line x1="736.60" y1="624.30" x2="736.60" y2="692.90" stroke="#8d9098" stroke-width="1.1" />
<line x1="583.1" y1="178.9" x2="583.1" y2="392.5" stroke="#8d9098" stroke-width="1.3" stroke-dasharray="21 4.5 5.4 4.5 23.7 4.5 5.4 4.5" />
<line x1="583.10" y1="396.80" x2="583.10" y2="401.60" stroke="#e8e9ec" stroke-width="1.6" />
<line x1="583.10" y1="474.30" x2="583.10" y2="479.00" stroke="#e8e9ec" stroke-width="1.6" />
<line x1="583.1" y1="484" x2="583.1" y2="736" stroke="#8d9098" stroke-width="1.3" stroke-dasharray="23.7 4.5 5.4 4.5" />
<line x1="489.90" y1="624.00" x2="489.90" y2="650.70" stroke="#8d9098" stroke-width="1.1" />
<line x1="489.90" y1="666.00" x2="489.90" y2="692.00" stroke="#8d9098" stroke-width="1.1" />
<path d="M488.79999999999995 626.5 L489.9 621.8 L491.0 626.5 Z" fill="#ffffff"/>
<path d="M488.79999999999995 689.5 L489.9 694.2 L491.0 689.5 Z" fill="#ffffff"/>
<circle cx="489.9" cy="658.4" r="7.6" fill="none" stroke="#8d9098" stroke-width="1.1"/>
<text x="489.9" y="662.2" font-size="10.5" fill="#c8cad0" text-anchor="middle" font-family="Liberation Sans, sans-serif">1</text>
<line x1="497.50" y1="658.40" x2="538.00" y2="658.40" stroke="#8d9098" stroke-width="1.1" />
<line x1="538.00" y1="658.40" x2="538.00" y2="689.00" stroke="#8d9098" stroke-width="1.1" />
<line x1="538.00" y1="704.30" x2="538.00" y2="731.00" stroke="#8d9098" stroke-width="1.1" />
<circle cx="538.0" cy="696.7" r="7.6" fill="none" stroke="#8d9098" stroke-width="1.1"/>
<text x="538.0" y="700.5" font-size="10.5" fill="#c8cad0" text-anchor="middle" font-family="Liberation Sans, sans-serif">2</text>
<path d="M536.9 729.5 L538.0 734.5 L539.1 729.5 Z" fill="#ffffff"/>
<line x1="676.80" y1="624.00" x2="676.80" y2="650.70" stroke="#8d9098" stroke-width="1.1" />
<line x1="676.80" y1="666.00" x2="676.80" y2="692.00" stroke="#8d9098" stroke-width="1.1" />
<path d="M675.6999999999999 626.5 L676.8 621.8 L677.9 626.5 Z" fill="#ffffff"/>
<path d="M675.6999999999999 689.5 L676.8 694.2 L677.9 689.5 Z" fill="#ffffff"/>
<circle cx="676.8" cy="658.4" r="7.6" fill="none" stroke="#8d9098" stroke-width="1.1"/>
<text x="676.8" y="662.2" font-size="10.5" fill="#c8cad0" text-anchor="middle" font-family="Liberation Sans, sans-serif">1</text>
<line x1="628.40" y1="658.40" x2="669.20" y2="658.40" stroke="#8d9098" stroke-width="1.1" />
<line x1="628.40" y1="658.40" x2="628.40" y2="689.00" stroke="#8d9098" stroke-width="1.1" />
<line x1="628.40" y1="704.30" x2="628.40" y2="731.00" stroke="#8d9098" stroke-width="1.1" />
<circle cx="628.4" cy="696.7" r="7.6" fill="none" stroke="#8d9098" stroke-width="1.1"/>
<text x="628.4" y="700.5" font-size="10.5" fill="#c8cad0" text-anchor="middle" font-family="Liberation Sans, sans-serif">2</text>
<path d="M627.3 729.5 L628.4 734.5 L629.5 729.5 Z" fill="#ffffff"/>
<line x1="428.40" y1="446.60" x2="510.00" y2="446.60" stroke="#8d9098" stroke-width="1.1" />
<line x1="510.00" y1="446.60" x2="606.00" y2="446.60" stroke="#5a5e67" stroke-width="1.0" />
<line x1="606.00" y1="446.60" x2="737.50" y2="446.60" stroke="#8d9098" stroke-width="1.1" />
<line x1="428.40" y1="446.60" x2="428.40" y2="510.00" stroke="#8d9098" stroke-width="1.1" />
<line x1="737.50" y1="446.60" x2="737.50" y2="510.00" stroke="#8d9098" stroke-width="1.1" />
<path d="M427.2 507 L428.4 512.3 L429.6 507 Z" fill="#ffffff"/>
<path d="M736.3 507 L737.5 512.3 L738.7 507 Z" fill="#ffffff"/>
<line x1="387.00" y1="513.30" x2="447.00" y2="513.30" stroke="#8d9098" stroke-width="1.1" />
<line x1="720.00" y1="513.30" x2="770.20" y2="513.30" stroke="#8d9098" stroke-width="1.1" />
</svg>
<div class="t" id="title" style="left:67.5px;top:73.5px;font-size:44.4px;letter-spacing:0.3px;font-weight:700;">产品贴近墙面安装示意图</div>
<div class="t" id="l1" style="left:537.7px;top:328.3px;font-size:21px;letter-spacing:2.5px;-webkit-text-stroke:0.35px #fff;">公共烟道</div>
<div class="t" id="l2" style="left:528.7px;top:426px;font-size:18.3px;letter-spacing:1.3px;-webkit-text-stroke:0.35px #fff;">集成灶离墙</div>
<div class="t" id="l3" style="left:507.7px;top:448.3px;font-size:17.5px;letter-spacing:2.4px;-webkit-text-stroke:0.35px #fff;">至少预留</div>
<div class="t" id="l3b" style="left:584.3px;top:446.8px;font-size:19.5px;letter-spacing:1px;-webkit-text-stroke:0.35px #fff;">200mm</div>
<div class="t" id="l4" style="left:537.7px;top:652.3px;font-size:21px;letter-spacing:2.2px;-webkit-text-stroke:0.35px #fff;">烟道开口</div>
<div class="t" style="left:60.30px;top:842.30px;font-size:28.5px;">①</div>
<div class="t" style="left:90.80px;top:846.50px;font-size:27.5px;">：</div>
<div class="t" style="left:121.10px;top:843.20px;font-size:27.5px;transform:scaleX(1.05);transform-origin:0 0;">公</div>
<div class="t" style="left:152.25px;top:843.20px;font-size:27.5px;transform:scaleX(1.05);transform-origin:0 0;">共</div>
<div class="t" style="left:181.55px;top:843.20px;font-size:27.5px;transform:scaleX(1.05);transform-origin:0 0;">烟</div>
<div class="t" style="left:211.65px;top:843.20px;font-size:27.5px;transform:scaleX(1.05);transform-origin:0 0;">道</div>
<div class="t" style="left:242.25px;top:843.20px;font-size:27.5px;transform:scaleX(1.05);transform-origin:0 0;">打</div>
<div class="t" style="left:273.25px;top:843.20px;font-size:27.5px;transform:scaleX(1.05);transform-origin:0 0;">孔</div>
<div class="t" style="left:302.45px;top:843.20px;font-size:27.5px;transform:scaleX(1.05);transform-origin:0 0;">直</div>
<div class="t" style="left:332.70px;top:843.20px;font-size:27.5px;transform:scaleX(1.05);transform-origin:0 0;">径</div>
<div class="t" style="left:363.86px;top:840.20px;font-size:32.5px;transform:scaleX(0.92);transform-origin:0 0;">1</div>
<div class="t" style="left:381.68px;top:840.20px;font-size:32.5px;transform:scaleX(0.92);transform-origin:0 0;">8</div>
<div class="t" style="left:401.28px;top:840.20px;font-size:32.5px;transform:scaleX(0.92);transform-origin:0 0;">5</div>
<div class="t" style="left:419.40px;top:840.20px;font-size:31.5px;">m</div>
<div class="t" style="left:446.40px;top:840.20px;font-size:31.5px;">m</div>
<div class="t" style="left:472.10px;top:843.20px;font-size:27.5px;transform:scaleX(1.05);transform-origin:0 0;">的</div>
<div class="t" style="left:502.10px;top:843.20px;font-size:27.5px;transform:scaleX(1.05);transform-origin:0 0;">圆</div>
<div class="t" style="left:533.20px;top:847.50px;font-size:27.5px;">；</div>
<div class="t" style="left:60.30px;top:886.00px;font-size:28.5px;">②</div>
<div class="t" style="left:90.80px;top:889.00px;font-size:27.5px;">：</div>
<div class="t" style="left:121.10px;top:885.70px;font-size:27.5px;transform:scaleX(1.05);transform-origin:0 0;">公</div>
<div class="t" style="left:152.25px;top:885.70px;font-size:27.5px;transform:scaleX(1.05);transform-origin:0 0;">共</div>
<div class="t" style="left:181.55px;top:885.70px;font-size:27.5px;transform:scaleX(1.05);transform-origin:0 0;">烟</div>
<div class="t" style="left:211.65px;top:885.70px;font-size:27.5px;transform:scaleX(1.05);transform-origin:0 0;">道</div>
<div class="t" style="left:242.25px;top:885.70px;font-size:27.5px;transform:scaleX(1.05);transform-origin:0 0;">打</div>
<div class="t" style="left:273.25px;top:885.70px;font-size:27.5px;transform:scaleX(1.05);transform-origin:0 0;">孔</div>
<div class="t" style="left:303.50px;top:885.70px;font-size:27.5px;transform:scaleX(1.05);transform-origin:0 0;">中</div>
<div class="t" style="left:333.75px;top:885.70px;font-size:27.5px;transform:scaleX(1.05);transform-origin:0 0;">心</div>
<div class="t" style="left:363.85px;top:885.70px;font-size:27.5px;transform:scaleX(1.05);transform-origin:0 0;">距</div>
<div class="t" style="left:394.50px;top:885.70px;font-size:27.5px;transform:scaleX(1.05);transform-origin:0 0;">离</div>
<div class="t" style="left:425.65px;top:885.70px;font-size:27.5px;transform:scaleX(1.05);transform-origin:0 0;">地</div>
<div class="t" style="left:456.55px;top:885.70px;font-size:27.5px;transform:scaleX(1.05);transform-origin:0 0;">面</div>
<div class="t" style="left:483.58px;top:883.90px;font-size:32.5px;transform:scaleX(0.92);transform-origin:0 0;">2</div>
<div class="t" style="left:502.08px;top:883.90px;font-size:32.5px;transform:scaleX(0.92);transform-origin:0 0;">2</div>
<div class="t" style="left:520.68px;top:883.90px;font-size:32.5px;transform:scaleX(0.92);transform-origin:0 0;">5</div>
<div class="t" style="left:539.90px;top:884.00px;font-size:31.5px;">m</div>
<div class="t" style="left:566.90px;top:884.00px;font-size:31.5px;">m</div>
<div class="t" style="left:594.90px;top:884.00px;font-size:27.5px;">。</div>
</body></html>
